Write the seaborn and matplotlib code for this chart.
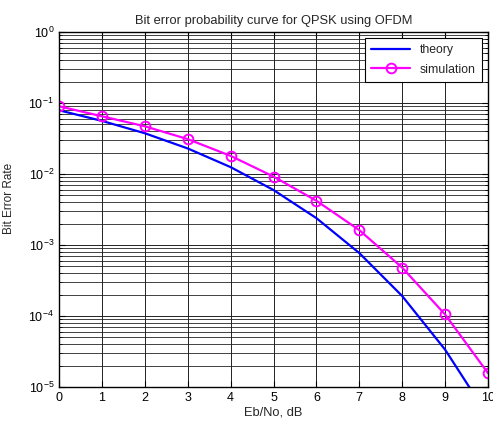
import matplotlib
matplotlib.use("Agg")
import matplotlib.pyplot as plt
import seaborn as sns
import pandas as pd
from matplotlib.ticker import LogLocator, NullFormatter, FixedLocator

ebno_db = [0, 1, 2, 3, 4, 5, 6, 7, 8, 9, 10]
ber_theory = [7.9e-2, 5.6e-2, 3.75e-2, 2.29e-2, 1.25e-2, 5.95e-3, 2.39e-3, 7.7e-4, 1.91e-4, 3.36e-5, 3.9e-6]
ber_sim = [9.0e-2, 6.5e-2, 4.7e-2, 3.1e-2, 1.8e-2, 9.2e-3, 4.2e-3, 1.62e-3, 4.8e-4, 1.05e-4, 1.57e-5]

sns.set_style("ticks")
plt.rcParams['font.family'] = ['Liberation Sans', 'DejaVu Sans']
plt.rcParams['mathtext.fontset'] = 'custom'
plt.rcParams['mathtext.rm'] = 'Liberation Sans'
plt.rcParams['mathtext.default'] = 'regular'

df = pd.DataFrame({"ebno": ebno_db, "theory": ber_theory, "sim": ber_sim})

fig = plt.figure(figsize=(4.93, 4.26), dpi=100)
ax = fig.add_axes([59/493, 39/426, 429/493, 355/426])

sns.lineplot(data=df, x="ebno", y="theory", ax=ax, color=(0, 0, 1), lw=1.6, label="theory")
sns.lineplot(data=df, x="ebno", y="sim", ax=ax, color=(1, 0, 1), lw=1.6, marker="o",
             markersize=7, markerfacecolor="none", markeredgecolor=(1, 0, 1),
             markeredgewidth=1.4, label="simulation")

ax.set_yscale("log")
ax.set_xlim(0, 10)
ax.set_ylim(1e-5, 1)
ax.xaxis.set_major_locator(FixedLocator(ebno_db))
ax.yaxis.set_major_locator(LogLocator(base=10, numticks=10))
ax.yaxis.set_minor_locator(LogLocator(base=10, subs=range(2, 10), numticks=20))
ax.yaxis.set_minor_formatter(NullFormatter())

ax.grid(True, which="major", color="#222222", lw=0.7, ls="-")
ax.grid(True, which="minor", axis="y", color="#222222", lw=0.6, ls="-")
ax.set_axisbelow(True)

for s in ax.spines.values():
    s.set_color("black")
    s.set_linewidth(1.0)
    s.set_visible(True)
ax.tick_params(which="both", direction="in", top=True, right=True, colors="black",
               labelsize=9)
ax.tick_params(which="major", length=4)
ax.tick_params(which="minor", length=2)

ax.set_xlabel("Eb/No, dB", fontsize=9.3, labelpad=2)
ax.set_ylabel("Bit Error Rate", fontsize=8.5)
ax.yaxis.set_label_coords(-0.103, 0.53)
ax.set_title("Bit error probability curve for QPSK using OFDM", fontsize=9.3, pad=6)

leg = ax.legend(loc="upper right", fontsize=8.8, frameon=True, fancybox=False,
                edgecolor="black", framealpha=1, borderaxespad=0.5, handlelength=3.2,
                borderpad=0.5, labelspacing=0.6)
leg.get_frame().set_linewidth(0.8)

fig.savefig("out.png", dpi=100)
